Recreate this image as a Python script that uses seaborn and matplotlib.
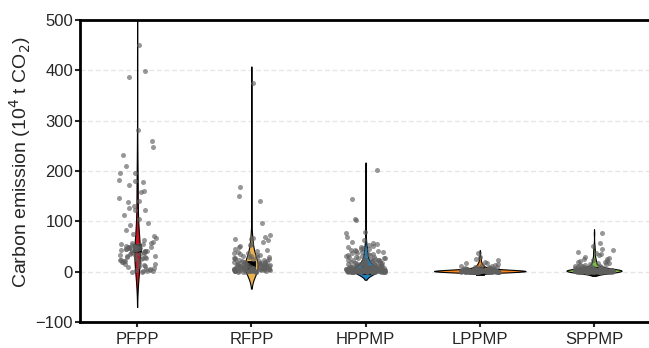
import numpy as np
import pandas as pd
import matplotlib.pyplot as plt
import seaborn as sns

# values (10^4 t CO2)
categories = ["PFPP", "RFPP", "HPPMP", "LPPMP", "SPPMP"]

pfpp = [450, 398, 386, 282, 259, 247, 231, 210, 196, 195, 183, 180, 178, 173,
        160, 158, 147, 140, 138, 131, 127, 123, 122, 113, 104, 96, 93, 82, 74, 70,
        66, 62, 58, 57, 56, 55, 54, 53, 52, 51, 50, 50, 49, 49, 48, 48, 47, 47,
        47, 46, 46, 45, 45, 44, 44, 43, 42, 42, 41, 40, 39, 38, 37, 36, 35, 34,
        33, 32, 31, 30, 29, 28, 27, 26, 25, 24, 23, 22, 21, 20, 19, 18, 16, 15,
        14, 12, 11, 10, 8, 6, 5, 4, 3, 2, 1, 1, 0, 0]

rfpp = [374, 168, 150, 141, 97, 73, 68, 66, 65, 64, 62, 58, 55, 52, 50, 48,
        45, 43, 42, 40, 38, 37, 35, 34, 33, 32, 31, 30, 30, 29, 28, 27, 26, 25,
        25, 24, 23, 22, 22, 21, 20, 20, 19, 19, 18, 18, 17, 17, 16, 16, 15, 15,
        15, 14, 14, 14, 13, 13, 13, 12, 12, 12, 11, 11, 11, 10, 10, 10, 10, 9,
        9, 9, 9, 8, 8, 8, 8, 7, 7, 7, 7, 6, 6, 6, 6, 5, 5, 5, 5, 5, 4, 4, 4, 4,
        4, 3, 3, 3, 3, 3, 2, 2, 2, 2, 2, 1, 1, 1, 1, 1, 0, 0, 0, 0, 0]

hppmp = [201, 145, 104, 103, 78, 77, 68, 62, 58, 57, 55, 52, 50, 49, 48, 47,
         46, 45, 44, 43, 42, 41, 40, 39, 38, 37, 36, 35, 34, 33, 32, 31, 30, 30,
         29, 28, 28, 27, 26, 26, 25, 25, 24, 24, 23, 23, 22, 22, 21, 21, 20, 20,
         19, 19, 18, 18, 17, 17, 16, 16, 15, 15, 15, 14, 14, 14, 13, 13, 13, 12,
         12, 12, 11, 11, 11, 10, 10, 10, 10, 9, 9, 9, 9, 8, 8, 8, 8, 7, 7, 7, 7,
         7, 6, 6, 6, 6, 6, 5, 5, 5, 5, 5, 5, 4, 4, 4, 4, 4, 4, 3, 3, 3, 3, 3, 3,
         3, 2, 2, 2, 2, 2, 2, 2, 2, 1, 1, 1, 1, 1, 1, 1, 1, 1, 0, 0, 0, 0, 0, 0,
         0, 0, 0, 0,
         4.8, 4.5, 4.2, 3.9, 3.6, 3.3, 3.0, 2.7, 2.4, 2.1, 1.8, 1.5, 1.2, 0.9,
         0.6, 0.3, 0.1, 4.6, 4.0, 3.4, 2.8, 2.2, 1.6, 1.0, 0.4, 0.2, 3.7, 3.1,
         2.5, 1.9, 1.3, 0.7, 4.4, 3.8, 2.6, 1.4, 0.8, 0.5, 2.0, 1.1,
         3.9, 3.6, 3.3, 3.0, 2.7, 2.4, 2.1, 1.8, 1.5, 1.2, 0.9, 0.6, 0.3, 0.0,
         3.8, 3.2, 2.6, 2.0, 1.4, 0.8, 0.2, 3.5, 2.9, 2.3, 1.7, 1.1, 0.5, 0.1,
         3.4, 2.2, 1.0, 0.4, 2.8, 1.6, 0.7, 1.9, 1.3, 2.5, 3.1, 0.8]

lppmp = [38, 30, 26, 24, 20, 18, 17, 15, 14, 13, 12, 11, 10, 10, 9, 9, 8, 8,
         7, 7, 6, 6, 6, 5, 5, 5, 5, 4, 4, 4, 4, 4, 3, 3, 3, 3, 3, 3, 3, 3, 2.5,
         2.5, 2.5, 2.5, 2.5, 2, 2, 2, 2, 2, 2, 2, 2, 2, 2, 1.5, 1.5, 1.5, 1.5,
         1.5, 1.5, 1.5, 1.5, 1, 1, 1, 1, 1, 1, 1, 1, 1, 1, 1, 1, 0.8, 0.8, 0.8,
         0.8, 0.8, 0.6, 0.6, 0.6, 0.6, 0.6, 0.6, 0.5, 0.5, 0.5, 0.5, 0.5, 0.5,
         0.4, 0.4, 0.4, 0.4, 0.4, 0.3, 0.3, 0.3, 0.3, 0.3, 0.3, 0.2, 0.2, 0.2,
         0.2, 0.2, 0.2, 0.1, 0.1, 0.1, 0.1, 0.1, 0, 0, 0, 0, 0, 0, 0, 0]

sppmp = [76, 56, 50, 46, 44, 40, 38, 36, 33, 30, 28, 26, 25, 24, 22, 21, 20,
         19, 18, 17, 16, 15, 14, 13, 12, 12, 11, 11, 10, 10, 9, 9, 8, 8, 8, 7,
         7, 7, 6, 6, 6, 5, 5, 5, 5, 4, 4, 4, 4, 3, 3, 3, 3, 3, 2, 2, 2, 2, 2, 2,
         1, 1, 1, 1, 1, 1, 1, 0.5, 0.5, 0.5, 0.5, 0, 0, 0, 0, 0,
         2.8, 2.6, 2.4, 2.2, 2.0, 1.8, 1.6, 1.4, 1.2, 1.0, 0.8, 0.6, 0.4, 0.2,
         0.1, 2.9, 2.5, 2.1, 1.7, 1.3, 0.9, 0.5, 0.3, 0.0, 2.7, 2.3, 1.9, 1.5,
         1.1, 0.7, 3.0, 2.0, 1.0, 0.0, 1.5, 2.5, 0.5, 1.2, 1.8, 0.8,
         2.9, 2.7, 2.5, 2.3, 2.1, 1.9, 1.7, 1.5, 1.3, 1.1, 0.9, 0.7, 0.5, 0.3,
         0.1, 2.8, 2.4, 2.0, 1.6, 1.2, 0.8, 0.4, 0.0, 2.6, 2.2, 1.8, 1.4, 1.0,
         0.6, 0.2, 3.0, 2.5, 1.5, 0.5, 2.0, 1.0, 0.0, 2.3, 1.3, 0.3, 2.7, 1.7,
         0.7, 2.1, 1.1, 0.1, 1.9, 0.9, 1.6, 0.6]

colors = ["#c8121e", "#e9b24e", "#1f82c0", "#f5861f", "#7dbb42"]

groups = [pfpp, rfpp, hppmp, lppmp, sppmp]
df = pd.DataFrame({
    "type": np.concatenate([[c] * len(g) for c, g in zip(categories, groups)]),
    "emission": np.concatenate(groups),
})

sns.set_style("white")
plt.rcParams["font.family"] = ["Liberation Sans", "DejaVu Sans"]

fig = plt.figure(figsize=(6.49, 3.48), dpi=100)
ax = fig.add_axes([0.1233, 0.0747, 0.88, 0.868])

ax.yaxis.grid(True, color="#e6e6e6", linestyle=(0, (3.5, 2)), lw=1)
ax.set_axisbelow(True)

# no hue here, so "area" keeps one scale for all violins
sns.violinplot(data=df, x="type", y="emission", order=categories,
               color="gray", density_norm="area", width=0.8, cut=2,
               inner=None, linewidth=0.8, linecolor="black", ax=ax)
for poly, c in zip(ax.collections, colors):
    poly.set_facecolor(c)

sns.pointplot(data=df, x="type", y="emission", order=categories,
              estimator="median", errorbar=None, color="black", marker="s",
              linestyle="none", markersize=4.5, ax=ax)
np.random.seed(3)
sns.stripplot(data=df, x="type", y="emission", order=categories,
              color="#5f5f5f", alpha=0.65, size=3.6, jitter=0.17,
              linewidth=0, ax=ax)

ax.set_ylim(-100, 500)
ax.set_xlim(-0.5, 4.5)
ax.set_yticks(range(-100, 501, 100))
ax.set_xlabel("")
ax.set_ylabel("Carbon emission (10$^4$ t CO$_2$)", fontsize=14)
ax.yaxis.set_label_coords(-0.083, 0.53)
ax.tick_params(axis="y", labelsize=12, length=3.5, width=1.5, pad=1.5,
               left=True, direction="out")
ax.tick_params(axis="x", labelsize=12, length=3.5, width=1.5, pad=4,
               bottom=True, direction="out")
for side in ["left", "bottom", "top"]:
    ax.spines[side].set_linewidth(2)
    ax.spines[side].set_color("black")
ax.spines["right"].set_visible(False)

fig.savefig("out.png", dpi=100)
